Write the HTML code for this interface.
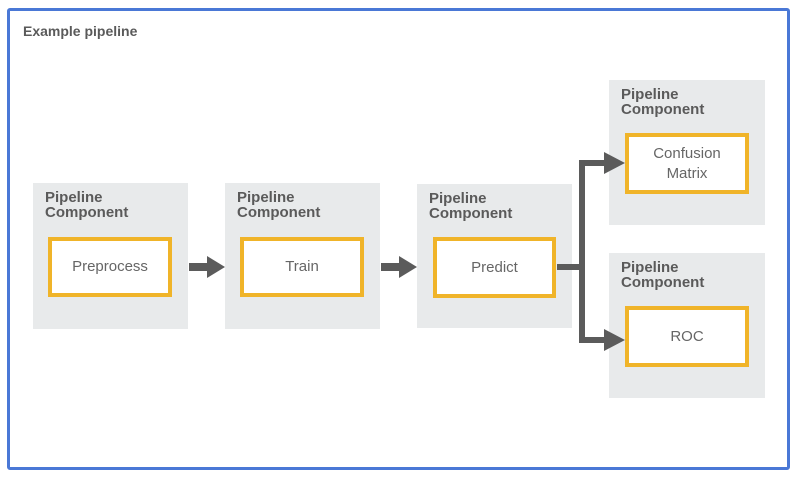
<!DOCTYPE html>
<html><head><meta charset="utf-8"><style>
html,body{margin:0;padding:0;background:#fff;}
body{width:798px;height:478px;position:relative;overflow:hidden;font-family:"Liberation Sans",sans-serif;}
.frame{position:absolute;left:7px;top:8px;width:777px;height:456px;border:3px solid #4a78d6;border-radius:3px;}
.title{position:absolute;left:23px;top:23px;font-size:14px;font-weight:bold;color:#5a5a5a;}
.g{position:absolute;background:#e8eaeb;}
.g .l{position:absolute;left:12px;top:7px;font-size:15px;font-weight:bold;color:#5a5a5a;line-height:15px;}
.y{position:absolute;border:4px solid #f0b429;background:#fff;box-sizing:border-box;display:flex;align-items:center;justify-content:center;text-align:center;font-size:15px;color:#666;line-height:20px;}
</style></head><body>
<div class="frame"></div>
<div class="title">Example pipeline</div>
<div class="g" style="left:33px;top:183px;width:155px;height:146px"><div class="l">Pipeline<br>Component</div></div>
<div class="g" style="left:225px;top:183px;width:155px;height:146px"><div class="l">Pipeline<br>Component</div></div>
<div class="g" style="left:417px;top:184px;width:155px;height:144px"><div class="l">Pipeline<br>Component</div></div>
<div class="g" style="left:609px;top:80px;width:156px;height:145px"><div class="l">Pipeline<br>Component</div></div>
<div class="g" style="left:609px;top:253px;width:156px;height:145px"><div class="l">Pipeline<br>Component</div></div>
<div class="y" style="left:48px;top:237px;width:124px;height:60px">Preprocess</div>
<div class="y" style="left:240px;top:237px;width:124px;height:60px">Train</div>
<div class="y" style="left:433px;top:237px;width:123px;height:61px">Predict</div>
<div class="y" style="left:625px;top:133px;width:124px;height:61px">Confusion<br>Matrix</div>
<div class="y" style="left:625px;top:306px;width:124px;height:61px">ROC</div>
<svg width="798" height="478" style="position:absolute;left:0;top:0">
<g fill="#5b5b5b" stroke="none">
<rect x="189" y="263" width="20" height="8"/><polygon points="207,256 225,267 207,278"/>
<rect x="381" y="263" width="20" height="8"/><polygon points="399,256 417,267 399,278"/>
<rect x="557" y="264" width="27" height="6"/>
<rect x="579" y="160" width="6" height="183"/>
<rect x="579" y="160" width="28" height="6"/><polygon points="604,152 625,163 604,174"/>
<rect x="579" y="337" width="28" height="6"/><polygon points="604,329 625,340 604,351"/>
</g></svg>
</body></html>
